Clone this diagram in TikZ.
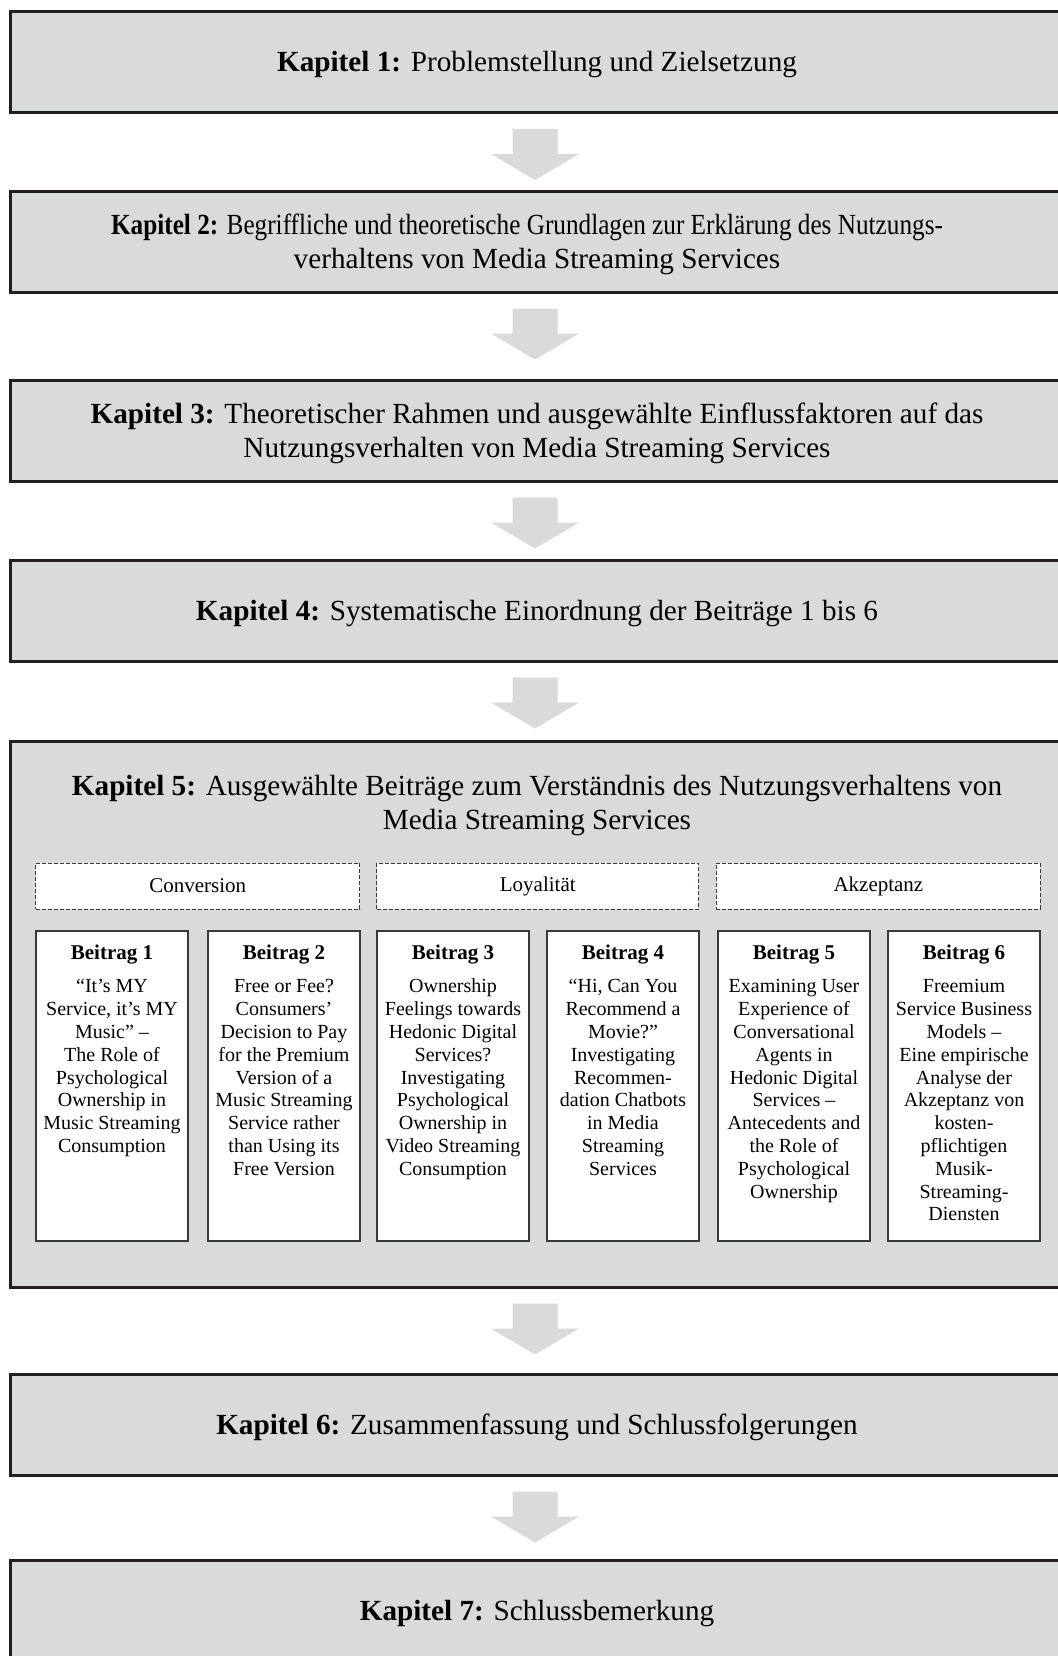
\documentclass[tikz,border=0pt]{standalone}
\usepackage{graphicx}
\usepackage{fontspec}
\setmainfont{Liberation Serif}
\usetikzlibrary{calc}

\definecolor{boxgray}{HTML}{D9DADC}
\definecolor{framedark}{HTML}{231F20}
\definecolor{thinline}{HTML}{3A3839}

\tikzset{
  chapter/.style={draw=framedark, line width=1.5pt, fill=boxgray,
    minimum width=527pt, minimum height=50.5pt, inner sep=0pt},
  chaptertext/.style={inner sep=0pt, align=center,
    font=\fontsize{14.6pt}{17pt}\selectfont},
  category/.style={draw=thinline, line width=0.5pt, dash pattern=on 2pt off 1pt,
    fill=white, minimum height=23pt, inner sep=0pt,
    font=\fontsize{10.5pt}{12pt}\selectfont},
  paper/.style={draw=thinline, line width=0.65pt, fill=white,
    minimum width=76pt, minimum height=155pt, inner sep=0pt},
  papertitle/.style={anchor=base, inner sep=0pt,
    font=\fontsize{10.5pt}{12pt}\selectfont\bfseries},
  paperbody/.style={anchor=base, inner sep=0pt,
    font=\fontsize{10pt}{11.4pt}\selectfont},
  pics/downarrow/.style={code={
    \fill[boxgray] (-22.5,0) -- (22.5,0) -- (22.5,25) -- (44,25) -- (0,51)
      -- (-44,25) -- (-22.5,25) -- cycle;}}
}

\newcommand{\papertext}[1]{\parbox[t]{80pt}{\centering #1}}

\begin{document}
\begin{tikzpicture}[x=0.5pt,y=-0.5pt]
\clip (0,0) rectangle (1058,1656);
\fill[white] (0,0) rectangle (1058,1656);

% chapter boxes
\node[chapter] (k1) at (537,62) {};
\node[chapter] (k2) at (537,241.5) {};
\node[chapter] (k3) at (537,430.5) {};
\node[chapter] (k4) at (537,610.5) {};
\node[chapter, minimum height=273pt] (k5) at (537,1014) {};
\node[chapter] (k6) at (537,1424.5) {};
\node[chapter] (k7) at (537,1611) {};

% chapter titles
\node[chaptertext] (k1t) at ($(k1)+(0,3)$) {\textbf{Kapitel 1:} Problemstellung und Zielsetzung};
\node[chaptertext] (k2t) at ($(k2)+(0,3)$) {\scalebox{0.864}[1]{\textbf{Kapitel 2:} Begriffliche und theoretische Grundlagen zur Erklärung des Nutzungs-}\hspace*{10pt}\\verhaltens von Media Streaming Services};
\node[chaptertext] (k3t) at ($(k3)+(0,3)$) {\textbf{Kapitel 3:} Theoretischer Rahmen und ausgewählte Einflussfaktoren auf das\\Nutzungsverhalten von Media Streaming Services};
\node[chaptertext] (k4t) at ($(k4)+(0,3)$) {\textbf{Kapitel 4:} Systematische Einordnung der Beiträge 1 bis 6};
\node[chaptertext] (k5t) at ($(k5.north)+(0,66)$) {\textbf{Kapitel 5:} Ausgewählte Beiträge zum Verständnis des Nutzungsverhaltens von\\Media Streaming Services};
\node[chaptertext] (k6t) at ($(k6)+(0,3)$) {\textbf{Kapitel 6:} Zusammenfassung und Schlussfolgerungen};
\node[chaptertext] (k7t) at ($(k7)+(0,3)$) {\textbf{Kapitel 7:} Schlussbemerkung};

% block arrows between the chapters
\foreach \a/\b in {k1/k2,k2/k3,k3/k4,k4/k5,k5/k6,k6/k7}
  \pic at ($(\a.south)+(-2,15)$) {downarrow};

% thematic groups
\node[category, minimum width=162pt] (conv) at (197.8,886) {Conversion};
\node[category, minimum width=161pt] (loy) at (537.8,886) {Loyalität};
\node[category, minimum width=162pt] (akz) at (878.4,886) {Akzeptanz};

% the six papers
\node[paper] (b1) at (112,1086) {};
\node[paper] (b2) at (284,1086) {};
\node[paper] (b3) at (453,1086) {};
\node[paper] (b4) at (623,1086) {};
\node[paper] (b5) at (794,1086) {};
\node[paper] (b6) at (964,1086) {};

\node[papertitle] (t1) at ($(b1.north)+(0,29)$) {Beitrag 1};
\node[papertitle] (t2) at ($(b2.north)+(0,29)$) {Beitrag 2};
\node[papertitle] (t3) at ($(b3.north)+(0,29)$) {Beitrag 3};
\node[papertitle] (t4) at ($(b4.north)+(0,29)$) {Beitrag 4};
\node[papertitle] (t5) at ($(b5.north)+(0,29)$) {Beitrag 5};
\node[papertitle] (t6) at ($(b6.north)+(0,29)$) {Beitrag 6};

\node[paperbody] (d1) at ($(b1.north)+(0,62.5)$) {\papertext{“It’s MY\\Service, it’s MY\\Music” –\\The Role of\\Psychological\\Ownership in\\Music Streaming\\Consumption}};
\node[paperbody] (d2) at ($(b2.north)+(0,62.5)$) {\papertext{Free or Fee?\\Consumers’\\Decision to Pay\\for the Premium\\Version of a\\Music Streaming\\Service rather\\than Using its\\Free Version}};
\node[paperbody] (d3) at ($(b3.north)+(0,62.5)$) {\papertext{Ownership\\Feelings towards\\Hedonic Digital\\Services?\\Investigating\\Psychological\\Ownership in\\Video Streaming\\Consumption}};
\node[paperbody] (d4) at ($(b4.north)+(0,62.5)$) {\papertext{“Hi, Can You\\Recommend a\\Movie?”\\Investigating\\Recommen-\\dation Chatbots\\in Media\\Streaming\\Services}};
\node[paperbody] (d5) at ($(b5.north)+(0,62.5)$) {\papertext{Examining User\\Experience of\\Conversational\\Agents in\\Hedonic Digital\\Services –\\Antecedents and\\the Role of\\Psychological\\Ownership}};
\node[paperbody] (d6) at ($(b6.north)+(0,62.5)$) {\papertext{Freemium\\Service Business\\Models –\\Eine empirische\\Analyse der\\Akzeptanz von\\kosten-\\pflichtigen\\Musik-\\Streaming-\\Diensten}};
\end{tikzpicture}
\end{document}
